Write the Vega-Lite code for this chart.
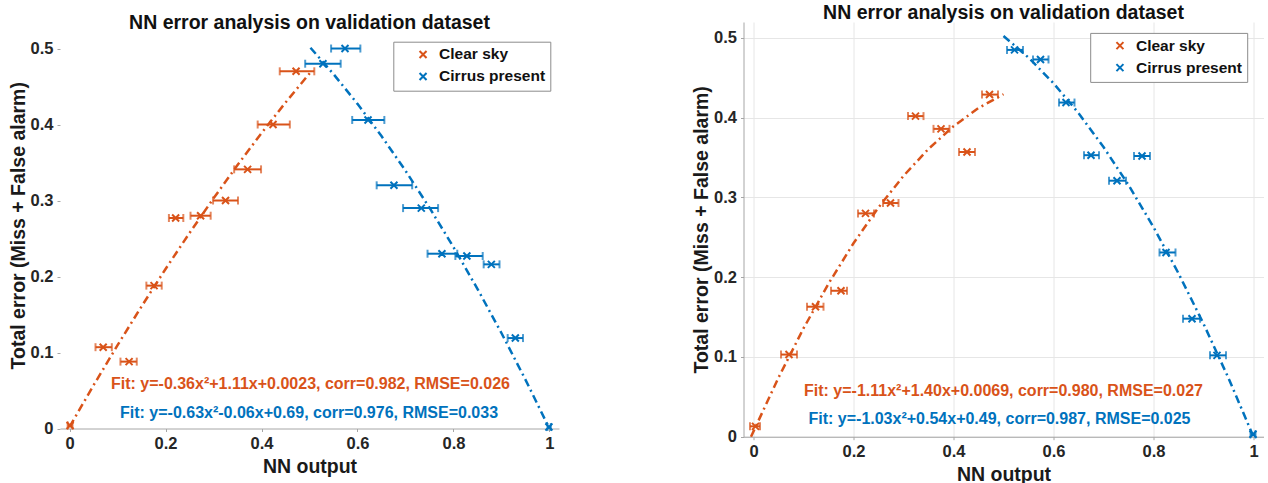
{
  "$schema": "https://vega.github.io/schema/vega-lite/v6.json",
  "background": "white",
  "padding": {"left": 8, "top": 3, "right": 4, "bottom": 0},
  "spacing": 132.5,
  "resolve": {"scale": {"color": "independent"}, "legend": {"color": "independent"}},
  "config": {
    "font": "Liberation Sans",
    "view": {"stroke": null},
    "axis": {
      "labelFont": "Liberation Sans", "labelFontSize": 16.5, "labelFontWeight": "bold", "labelColor": "#262626",
      "titleFont": "Liberation Sans", "titleFontSize": 19.5, "titleFontWeight": "bold", "titleColor": "#1a1a1a",
      "gridColor": "#e6e6e6", "domainColor": "#a6a6a6", "tickColor": "#a6a6a6", "tickSize": 3,
      "labelPadding": 4, "titlePadding": 2
    },
    "axisX": {"titlePadding": 5.5},
    "title": {"font": "Liberation Sans", "fontSize": 19.5, "fontWeight": "bold", "color": "#111111", "anchor": "middle", "offset": -1.5},
    "legend": {
      "orient": "none",
      "fillColor": "white", "strokeColor": "#8c8c8c", "padding": 5,
      "labelFont": "Liberation Sans", "labelFontSize": 15.5, "labelFontWeight": "bold", "labelColor": "#111111",
      "symbolType": "M-1,-1L1,1M-1,1L1,-1", "symbolSize": 49, "symbolStrokeWidth": 2,
      "symbolOffset": 17, "labelOffset": 8.3, "rowPadding": 5
    }
  },
  "hconcat": [
    {
      "width": 499, "height": 406.5,
      "title": {"text": "NN error analysis on validation dataset", "offset": -11},
      "layer": [
        {
          "mark": {"type": "rule", "color": "#a6a6a6", "strokeWidth": 1},
          "encoding": {"x": {"datum": -0.02, "type": "quantitative"}, "y": {"datum": 0, "type": "quantitative"}, "y2": {"datum": 0.52}}
        },
        {
          "data": {"values": [
            {"series": "Clear sky", "x": 0.0, "y": 0.0023}, {"series": "Clear sky", "x": 0.05, "y": 0.0569},
            {"series": "Clear sky", "x": 0.1, "y": 0.1097}, {"series": "Clear sky", "x": 0.15, "y": 0.1607},
            {"series": "Clear sky", "x": 0.2, "y": 0.2099}, {"series": "Clear sky", "x": 0.25, "y": 0.2573},
            {"series": "Clear sky", "x": 0.3, "y": 0.3029}, {"series": "Clear sky", "x": 0.35, "y": 0.3467},
            {"series": "Clear sky", "x": 0.4, "y": 0.3887}, {"series": "Clear sky", "x": 0.45, "y": 0.4289},
            {"series": "Clear sky", "x": 0.505, "y": 0.471},
            {"series": "Cirrus present", "x": 0.502, "y": 0.501}, {"series": "Cirrus present", "x": 0.55, "y": 0.4664},
            {"series": "Cirrus present", "x": 0.6, "y": 0.4272}, {"series": "Cirrus present", "x": 0.65, "y": 0.3848},
            {"series": "Cirrus present", "x": 0.7, "y": 0.3393}, {"series": "Cirrus present", "x": 0.75, "y": 0.2906},
            {"series": "Cirrus present", "x": 0.8, "y": 0.2388}, {"series": "Cirrus present", "x": 0.85, "y": 0.1838},
            {"series": "Cirrus present", "x": 0.9, "y": 0.1257}, {"series": "Cirrus present", "x": 0.95, "y": 0.0644},
            {"series": "Cirrus present", "x": 1.0, "y": 0.0}
          ]},
          "mark": {"type": "line", "strokeDash": [8, 4, 2, 4], "strokeWidth": 2.5},
          "encoding": {
            "x": {"field": "x", "type": "quantitative",
                  "scale": {"domain": [-0.02, 1.02], "nice": false, "zero": false},
                  "axis": {"title": "NN output", "values": [0, 0.2, 0.4, 0.6, 0.8, 1], "format": "~g"}},
            "y": {"field": "y", "type": "quantitative",
                  "scale": {"domain": [0, 0.5349], "nice": false, "zero": false},
                  "axis": {"title": "Total error (Miss + False alarm)", "values": [0, 0.1, 0.2, 0.3, 0.4, 0.5], "format": "~g", "domain": false}},
            "stroke": {"field": "series", "type": "nominal",
                       "scale": {"domain": ["Clear sky", "Cirrus present"], "range": ["#D95319", "#0072BD"]}, "legend": null}
          }
        },
        {
          "data": {"values": [
            {"series": "Clear sky", "x": 0.001, "lo": -0.004, "hi": 0.006, "y": 0.004},
            {"series": "Clear sky", "x": 0.070, "lo": 0.054, "hi": 0.088, "y": 0.107},
            {"series": "Clear sky", "x": 0.124, "lo": 0.106, "hi": 0.140, "y": 0.088},
            {"series": "Clear sky", "x": 0.176, "lo": 0.160, "hi": 0.192, "y": 0.188},
            {"series": "Clear sky", "x": 0.221, "lo": 0.207, "hi": 0.237, "y": 0.277},
            {"series": "Clear sky", "x": 0.273, "lo": 0.252, "hi": 0.294, "y": 0.280},
            {"series": "Clear sky", "x": 0.325, "lo": 0.299, "hi": 0.351, "y": 0.300},
            {"series": "Clear sky", "x": 0.371, "lo": 0.343, "hi": 0.399, "y": 0.341},
            {"series": "Clear sky", "x": 0.424, "lo": 0.392, "hi": 0.459, "y": 0.400},
            {"series": "Clear sky", "x": 0.472, "lo": 0.438, "hi": 0.510, "y": 0.470},
            {"series": "Cirrus present", "x": 0.528, "lo": 0.491, "hi": 0.565, "y": 0.480},
            {"series": "Cirrus present", "x": 0.574, "lo": 0.545, "hi": 0.606, "y": 0.500},
            {"series": "Cirrus present", "x": 0.622, "lo": 0.589, "hi": 0.656, "y": 0.406},
            {"series": "Cirrus present", "x": 0.676, "lo": 0.640, "hi": 0.714, "y": 0.320},
            {"series": "Cirrus present", "x": 0.733, "lo": 0.695, "hi": 0.768, "y": 0.290},
            {"series": "Cirrus present", "x": 0.776, "lo": 0.746, "hi": 0.808, "y": 0.230},
            {"series": "Cirrus present", "x": 0.828, "lo": 0.804, "hi": 0.861, "y": 0.227},
            {"series": "Cirrus present", "x": 0.879, "lo": 0.863, "hi": 0.896, "y": 0.216},
            {"series": "Cirrus present", "x": 0.929, "lo": 0.913, "hi": 0.945, "y": 0.119},
            {"series": "Cirrus present", "x": 0.999, "lo": 0.996, "hi": 1.003, "y": 0.002}
          ]},
          "layer": [
            {"mark": {"type": "rule", "strokeWidth": 2},
             "encoding": {"x": {"field": "lo", "type": "quantitative"}, "x2": {"field": "hi"}, "y": {"field": "y", "type": "quantitative"},
                          "stroke": {"field": "series", "type": "nominal", "legend": null}}},
            {"mark": {"type": "tick", "orient": "vertical", "size": 8, "thickness": 2},
             "encoding": {"x": {"field": "lo", "type": "quantitative"}, "y": {"field": "y", "type": "quantitative"},
                          "fill": {"field": "series", "type": "nominal",
                                   "scale": {"domain": ["Clear sky", "Cirrus present"], "range": ["#D95319", "#0072BD"]}, "legend": null}}},
            {"mark": {"type": "tick", "orient": "vertical", "size": 8, "thickness": 2},
             "encoding": {"x": {"field": "hi", "type": "quantitative"}, "y": {"field": "y", "type": "quantitative"},
                          "fill": {"field": "series", "type": "nominal", "legend": null}}},
            {"mark": {"type": "point", "shape": "M-1,-1L1,1M-1,1L1,-1", "filled": false, "size": 49, "strokeWidth": 2, "opacity": 1},
             "encoding": {"x": {"field": "x", "type": "quantitative"}, "y": {"field": "y", "type": "quantitative"},
                          "color": {"field": "series", "type": "nominal",
                                    "scale": {"domain": ["Clear sky", "Cirrus present"], "range": ["#D95319", "#0072BD"]},
                                    "legend": {"title": null, "orient": "none", "legendX": 333.3, "legendY": 19.7, "symbolType": "M-1,-1L1,1M-1,1L1,-1"}}}}
          ]
        },
        {
          "data": {"values": [
            {"series": "Clear sky", "x": 0.502, "y": 0.058, "label": "Fit: y=-0.36x²+1.11x+0.0023, corr=0.982, RMSE=0.026"},
            {"series": "Cirrus present", "x": 0.499, "y": 0.021, "label": "Fit: y=-0.63x²-0.06x+0.69, corr=0.976, RMSE=0.033"}
          ]},
          "mark": {"type": "text", "fontSize": 16, "fontWeight": "bold", "align": "center", "baseline": "middle"},
          "encoding": {"x": {"field": "x", "type": "quantitative"}, "y": {"field": "y", "type": "quantitative"},
                       "text": {"field": "label"},
                       "fill": {"field": "series", "type": "nominal", "legend": null}}
        }
      ]
    },
    {
      "width": 520, "height": 414.7,
      "title": "NN error analysis on validation dataset",
      "layer": [
        {
          "data": {"values": [
            {"series": "Clear sky", "x": -0.005, "y": 0.0}, {"series": "Clear sky", "x": 0.05, "y": 0.0741},
            {"series": "Clear sky", "x": 0.1, "y": 0.1358}, {"series": "Clear sky", "x": 0.15, "y": 0.1919},
            {"series": "Clear sky", "x": 0.2, "y": 0.2425}, {"series": "Clear sky", "x": 0.25, "y": 0.2875},
            {"series": "Clear sky", "x": 0.3, "y": 0.327}, {"series": "Clear sky", "x": 0.35, "y": 0.3609},
            {"series": "Clear sky", "x": 0.4, "y": 0.3893}, {"series": "Clear sky", "x": 0.45, "y": 0.4121},
            {"series": "Clear sky", "x": 0.5, "y": 0.4294},
            {"series": "Cirrus present", "x": 0.5, "y": 0.5025}, {"series": "Cirrus present", "x": 0.55, "y": 0.4754},
            {"series": "Cirrus present", "x": 0.6, "y": 0.4432}, {"series": "Cirrus present", "x": 0.65, "y": 0.4058},
            {"series": "Cirrus present", "x": 0.7, "y": 0.3633}, {"series": "Cirrus present", "x": 0.75, "y": 0.3156},
            {"series": "Cirrus present", "x": 0.8, "y": 0.2628}, {"series": "Cirrus present", "x": 0.85, "y": 0.2048},
            {"series": "Cirrus present", "x": 0.9, "y": 0.1417}, {"series": "Cirrus present", "x": 0.95, "y": 0.0734},
            {"series": "Cirrus present", "x": 1.0, "y": 0.0}
          ]},
          "mark": {"type": "line", "strokeDash": [8, 4, 2, 4], "strokeWidth": 2.5},
          "encoding": {
            "x": {"field": "x", "type": "quantitative",
                  "scale": {"domain": [-0.02, 1.02], "nice": false, "zero": false},
                  "axis": {"title": "NN output", "values": [0, 0.2, 0.4, 0.6, 0.8, 1], "format": "~g"}},
            "y": {"field": "y", "type": "quantitative",
                  "scale": {"domain": [0, 0.52], "nice": false, "zero": false},
                  "axis": {"title": "Total error (Miss + False alarm)", "values": [0, 0.1, 0.2, 0.3, 0.4, 0.5], "format": "~g"}},
            "stroke": {"field": "series", "type": "nominal",
                       "scale": {"domain": ["Clear sky", "Cirrus present"], "range": ["#D95319", "#0072BD"]}, "legend": null}
          }
        },
        {
          "data": {"values": [
            {"series": "Clear sky", "x": 0.004, "lo": -0.007, "hi": 0.013, "y": 0.013},
            {"series": "Clear sky", "x": 0.071, "lo": 0.055, "hi": 0.087, "y": 0.103},
            {"series": "Clear sky", "x": 0.124, "lo": 0.107, "hi": 0.140, "y": 0.163},
            {"series": "Clear sky", "x": 0.175, "lo": 0.155, "hi": 0.187, "y": 0.183},
            {"series": "Clear sky", "x": 0.224, "lo": 0.209, "hi": 0.241, "y": 0.280},
            {"series": "Clear sky", "x": 0.274, "lo": 0.259, "hi": 0.290, "y": 0.293},
            {"series": "Clear sky", "x": 0.324, "lo": 0.309, "hi": 0.340, "y": 0.402},
            {"series": "Clear sky", "x": 0.375, "lo": 0.360, "hi": 0.392, "y": 0.386},
            {"series": "Clear sky", "x": 0.427, "lo": 0.411, "hi": 0.443, "y": 0.357},
            {"series": "Clear sky", "x": 0.472, "lo": 0.457, "hi": 0.489, "y": 0.429},
            {"series": "Cirrus present", "x": 0.522, "lo": 0.507, "hi": 0.539, "y": 0.485},
            {"series": "Cirrus present", "x": 0.574, "lo": 0.559, "hi": 0.590, "y": 0.473},
            {"series": "Cirrus present", "x": 0.625, "lo": 0.611, "hi": 0.642, "y": 0.419},
            {"series": "Cirrus present", "x": 0.675, "lo": 0.661, "hi": 0.691, "y": 0.353},
            {"series": "Cirrus present", "x": 0.727, "lo": 0.711, "hi": 0.745, "y": 0.321},
            {"series": "Cirrus present", "x": 0.777, "lo": 0.761, "hi": 0.793, "y": 0.352},
            {"series": "Cirrus present", "x": 0.825, "lo": 0.812, "hi": 0.844, "y": 0.231},
            {"series": "Cirrus present", "x": 0.877, "lo": 0.859, "hi": 0.893, "y": 0.148},
            {"series": "Cirrus present", "x": 0.927, "lo": 0.913, "hi": 0.945, "y": 0.102},
            {"series": "Cirrus present", "x": 0.999, "lo": 0.994, "hi": 1.004, "y": 0.003}
          ]},
          "layer": [
            {"mark": {"type": "rule", "strokeWidth": 2},
             "encoding": {"x": {"field": "lo", "type": "quantitative"}, "x2": {"field": "hi"}, "y": {"field": "y", "type": "quantitative"},
                          "stroke": {"field": "series", "type": "nominal", "legend": null}}},
            {"mark": {"type": "tick", "orient": "vertical", "size": 8, "thickness": 2},
             "encoding": {"x": {"field": "lo", "type": "quantitative"}, "y": {"field": "y", "type": "quantitative"},
                          "fill": {"field": "series", "type": "nominal",
                                   "scale": {"domain": ["Clear sky", "Cirrus present"], "range": ["#D95319", "#0072BD"]}, "legend": null}}},
            {"mark": {"type": "tick", "orient": "vertical", "size": 8, "thickness": 2},
             "encoding": {"x": {"field": "hi", "type": "quantitative"}, "y": {"field": "y", "type": "quantitative"},
                          "fill": {"field": "series", "type": "nominal", "legend": null}}},
            {"mark": {"type": "point", "shape": "M-1,-1L1,1M-1,1L1,-1", "filled": false, "size": 49, "strokeWidth": 2, "opacity": 1},
             "encoding": {"x": {"field": "x", "type": "quantitative"}, "y": {"field": "y", "type": "quantitative"},
                          "color": {"field": "series", "type": "nominal",
                                    "scale": {"domain": ["Clear sky", "Cirrus present"], "range": ["#D95319", "#0072BD"]},
                                    "legend": {"title": null, "orient": "none", "legendX": 346.7, "legendY": 10.9, "symbolType": "M-1,-1L1,1M-1,1L1,-1"}}}}
          ]
        },
        {
          "data": {"values": [
            {"series": "Clear sky", "x": 0.5, "y": 0.057, "label": "Fit: y=-1.11x²+1.40x+0.0069, corr=0.980, RMSE=0.027"},
            {"series": "Cirrus present", "x": 0.492, "y": 0.022, "label": "Fit: y=-1.03x²+0.54x+0.49, corr=0.987, RMSE=0.025"}
          ]},
          "mark": {"type": "text", "fontSize": 16, "fontWeight": "bold", "align": "center", "baseline": "middle"},
          "encoding": {"x": {"field": "x", "type": "quantitative"}, "y": {"field": "y", "type": "quantitative"},
                       "text": {"field": "label"},
                       "fill": {"field": "series", "type": "nominal", "legend": null}}
        }
      ]
    }
  ]
}
